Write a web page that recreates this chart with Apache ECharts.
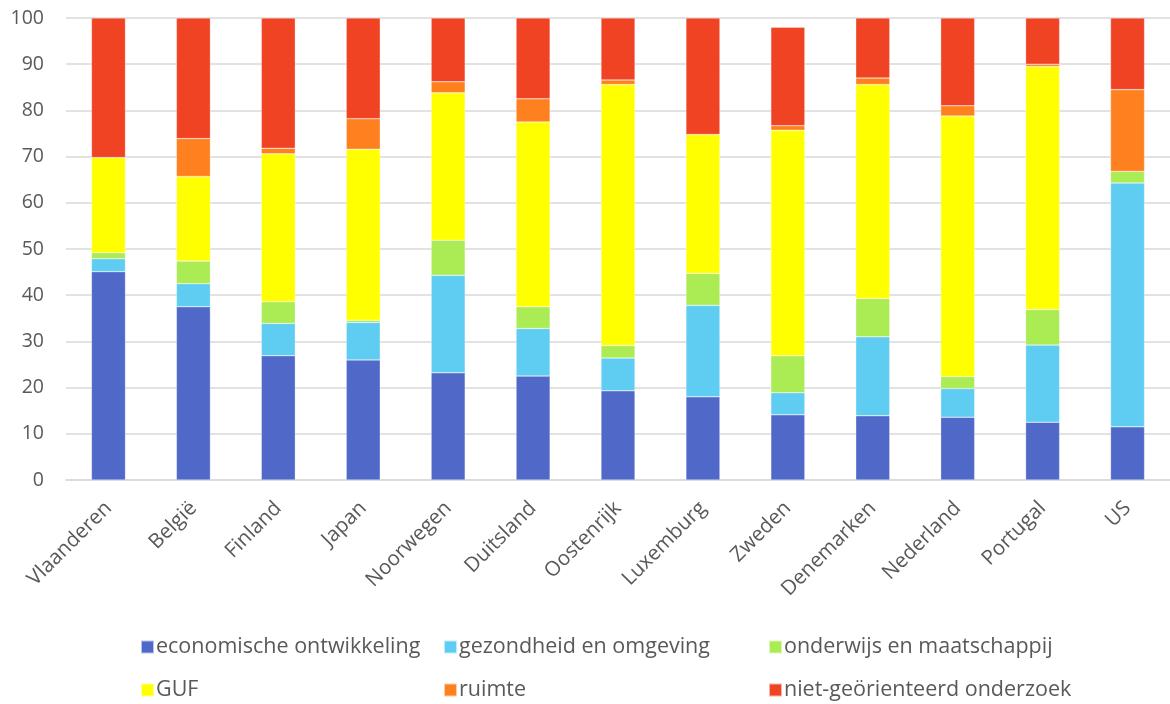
<!DOCTYPE html>
<html>
<head>
<meta charset="utf-8">
<script src="https://cdn.jsdelivr.net/npm/echarts@6/dist/echarts.min.js"></script>
<style>
  html, body { margin: 0; padding: 0; background: #fff; }
  #chart { width: 1170px; height: 704px; }
</style>
</head>
<body>
<div id="chart"></div>
<script>
const landen = ['Vlaanderen', 'België', 'Finland', 'Japan', 'Noorwegen', 'Duitsland', 'Oostenrijk',
  'Luxemburg', 'Zweden', 'Denemarken', 'Nederland', 'Portugal', 'US']

const economisch = [45.1, 37.5, 26.9, 26.0, 23.2, 22.5, 19.3, 18.0, 14.1, 13.9, 13.6, 12.5, 11.5]
const gezondheid = [2.8, 5.0, 7.0, 8.1, 21.1, 10.3, 7.1, 19.8, 4.8, 17.1, 6.2, 16.7, 52.8]
const onderwijs = [1.3, 4.9, 4.7, 0.5, 7.6, 4.7, 2.7, 6.9, 8.0, 8.3, 2.6, 7.7, 2.5]
const guf = [20.6, 18.3, 32.0, 37.0, 31.9, 40.0, 56.5, 30.1, 48.8, 46.3, 56.4, 52.6, 0]
const ruimte = [0, 8.2, 1.2, 6.6, 2.4, 5.0, 1.0, 0, 1.0, 1.4, 2.2, 0.5, 17.7]
const nietGeorienteerd = [30.2, 26.1, 28.2, 21.8, 13.8, 17.5, 13.4, 25.2, 21.3, 13.0, 19.0, 10.0, 15.5]

const reeksen = [
  { name: 'economische ontwikkeling', data: economisch, color: '#5068C8' },
  { name: 'gezondheid en omgeving', data: gezondheid, color: '#5FCDF2' },
  { name: 'onderwijs en maatschappij', data: onderwijs, color: '#ABEB54' },
  { name: 'GUF', data: guf, color: '#FFFF00' },
  { name: 'ruimte', data: ruimte, color: '#FF801F' },
  { name: 'niet-geörienteerd onderzoek', data: nietGeorienteerd, color: '#F04324' }
]

const tekstKleur = '#595959'
const font = '"Open Sans", sans-serif'

const chart = echarts.init(document.getElementById('chart'))

// legende: 3 kolommen x 2 rijen, elk item apart geplaatst
const kolommen = [135, 438, 763]
const rijen = [631, 674]
const legendes = reeksen.map((r, i) => ({
  left: kolommen[i % 3],
  top: rijen[Math.floor(i / 3)],
  itemWidth: 13,
  itemHeight: 13,
  icon: 'rect',
  selectedMode: false,
  data: [r.name],
  textStyle: { color: tekstKleur, fontSize: 21.5, fontFamily: font, padding: [0, 0, 0, -3] }
}))

const option = {
  animation: false,
  textStyle: { fontFamily: font },
  legend: legendes,
  grid: { left: 66, right: -5, top: 18, bottom: 224, containLabel: false },
  xAxis: {
    type: 'category',
    data: landen,
    axisTick: { show: false },
    axisLine: { lineStyle: { color: '#d9d9d9', width: 1.5 } },
    axisLabel: {
      rotate: 45,
      interval: 0,
      color: tekstKleur,
      fontSize: 20.5,
      fontFamily: font,
      margin: 25
    }
  },
  yAxis: {
    type: 'value',
    min: 0,
    max: 100,
    interval: 10,
    axisLine: { show: false },
    axisTick: { show: false },
    splitLine: { lineStyle: { color: '#d9d9d9', width: 1.5 } },
    axisLabel: { color: tekstKleur, fontSize: 19.5, fontFamily: font, margin: 22 }
  },
  series: reeksen.map(r => ({
    name: r.name,
    type: 'bar',
    stack: 'totaal',
    barWidth: 34,
    data: r.data,
    itemStyle: { color: r.color, borderColor: 'rgba(255,255,255,0.6)', borderWidth: 0.5 }
  }))
}

chart.setOption(option)
</script>
</body>
</html>
